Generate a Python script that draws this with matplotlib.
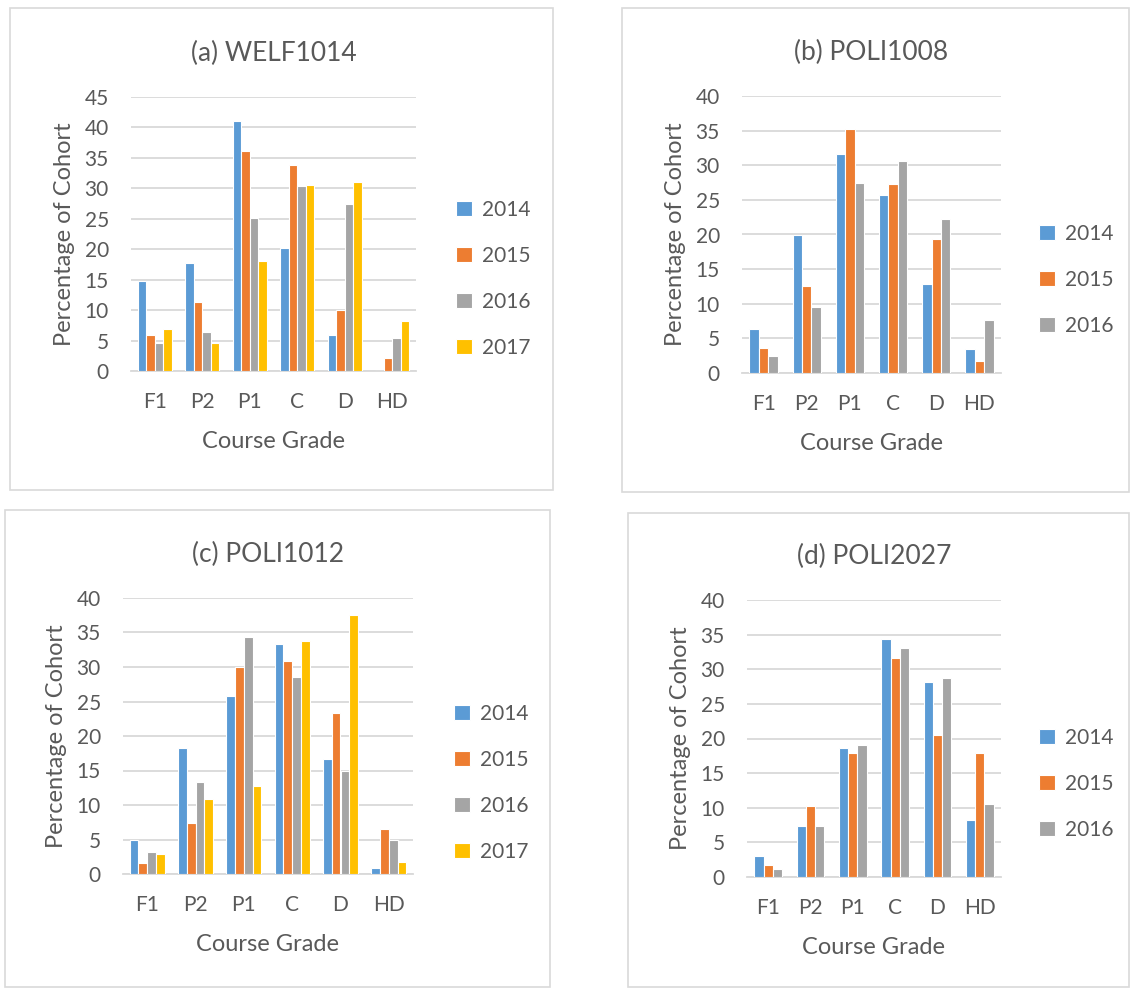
import matplotlib.pyplot as plt
from matplotlib.patches import Rectangle
import numpy as np

plt.rcParams['font.family'] = ['Lato', 'DejaVu Sans']

grades = ['F1', 'P2', 'P1', 'C', 'D', 'HD']
years4 = ['2014', '2015', '2016', '2017']
years3 = ['2014', '2015', '2016']

# (a) WELF1014
welf1014_2014 = [14.8, 17.7, 41.1, 20.2, 5.9, 0.0]
welf1014_2015 = [5.9, 11.4, 36.2, 33.9, 10.0, 2.1]
welf1014_2016 = [4.6, 6.4, 25.2, 30.4, 27.5, 5.5]
welf1014_2017 = [6.9, 4.6, 18.0, 30.6, 31.1, 8.2]

# (b) POLI1008
poli1008_2014 = [6.4, 19.9, 31.6, 25.7, 12.8, 3.5]
poli1008_2015 = [3.6, 12.6, 35.2, 27.3, 19.4, 1.8]
poli1008_2016 = [2.5, 9.5, 27.4, 30.6, 22.3, 7.6]

# (c) POLI1012
poli1012_2014 = [4.9, 18.2, 25.8, 33.3, 16.6, 0.8]
poli1012_2015 = [1.6, 7.4, 30.0, 30.8, 23.3, 6.5]
poli1012_2016 = [3.2, 13.3, 34.4, 28.5, 15.0, 5.0]
poli1012_2017 = [2.9, 10.8, 12.8, 33.7, 37.6, 1.8]

# (d) POLI2027
poli2027_2014 = [3.1, 7.3, 18.7, 34.4, 28.1, 8.3]
poli2027_2015 = [1.7, 10.2, 17.9, 31.6, 20.5, 17.9]
poli2027_2016 = [1.1, 7.4, 19.1, 33.0, 28.7, 10.6]

colors = ['#5B9BD5', '#ED7D31', '#A5A5A5', '#FFC000']
txt = '#595959'
grid = '#D9D9D9'

W, H = 1130, 988
fig = plt.figure(figsize=(W / 100, H / 100), dpi=100)

panels = [
    # title, series, labels, ymax, box (x0,y0,x1,y1), axes (l,r,t,b), legend (x,y top)
    ('(a) WELF1014', [welf1014_2014, welf1014_2015, welf1014_2016, welf1014_2017], years4, 45,
     (10, 8, 553, 490), (131, 416, 97, 371), (456, 200)),
    ('(b) POLI1008', [poli1008_2014, poli1008_2015, poli1008_2016], years3, 40,
     (622, 8, 1129, 492), (742, 1001, 96, 373), (1039, 224)),
    ('(c) POLI1012', [poli1012_2014, poli1012_2015, poli1012_2016, poli1012_2017], years4, 40,
     (5, 510, 550, 987), (123, 413, 598, 874), (454, 704)),
    ('(d) POLI2027', [poli2027_2014, poli2027_2015, poli2027_2016], years3, 40,
     (628, 513, 1129, 987), (747, 1001, 600, 877), (1039, 728)),
]

for title, series, labels, ymax, box, pos, leg in panels:
    bx0, by0, bx1, by1 = box
    fig.patches.append(Rectangle((bx0 / W, 1 - by1 / H), (bx1 - bx0) / W, (by1 - by0) / H,
                                 transform=fig.transFigure, fill=False,
                                 edgecolor=grid, linewidth=1.2))
    l, r, t, b = pos
    ax = fig.add_axes([l / W, 1 - b / H, (r - l) / W, (b - t) / H])
    n = len(series)
    w = 1 / (n + 1.55)
    x = np.arange(len(grades))
    handles = []
    for i, vals in enumerate(series):
        h = ax.bar(x + (i - (n - 1) / 2) * w, vals, width=w, color=colors[i],
                   edgecolor='white', linewidth=0.8, label=labels[i], zorder=3)
        handles.append(h)
    ax.set_xlim(-0.5, len(grades) - 0.5)
    ax.set_ylim(0, ymax)
    ax.set_yticks(np.arange(0, ymax + 1, 5))
    ax.set_xticks(x)
    ax.set_xticklabels(grades)
    ax.yaxis.grid(True, color=grid, linewidth=1.3, zorder=0)
    ax.set_axisbelow(True)
    for s in ['top', 'right', 'left']:
        ax.spines[s].set_visible(False)
    ax.spines['bottom'].set_color(grid)
    ax.spines['bottom'].set_linewidth(1.3)
    ax.tick_params(length=0, labelsize=15, labelcolor=txt)
    ax.tick_params(axis='y', pad=16)
    ax.tick_params(axis='x', pad=15)
    ax.set_title(title, fontsize=19, color=txt, pad=26)
    ax.set_ylabel('Percentage of Cohort', fontsize=17, color=txt, labelpad=7)
    ax.set_xlabel('Course Grade', fontsize=17, color=txt, labelpad=14)
    fig.legend(handles=handles, loc='upper left',
               bbox_to_anchor=(leg[0] / W, 1 - leg[1] / H), frameon=False,
               fontsize=15, labelcolor=txt, handlelength=0.75, handleheight=0.75,
               handletextpad=0.5, labelspacing=1.25, borderaxespad=0, borderpad=0)

plt.savefig('out.png', dpi=100)
